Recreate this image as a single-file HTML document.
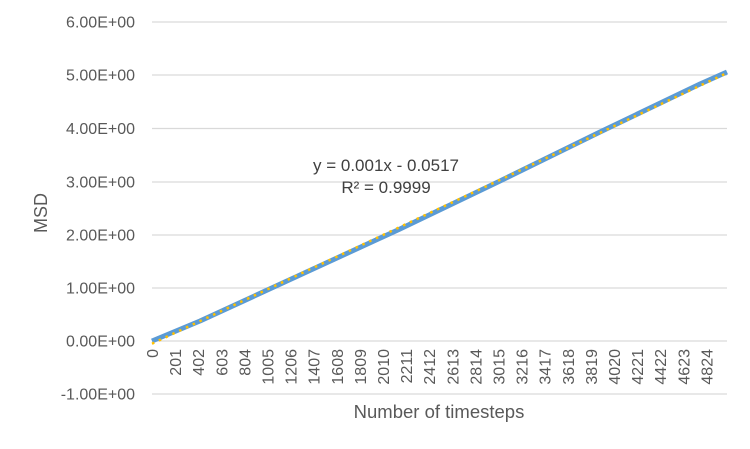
<!DOCTYPE html>
<html><head><meta charset="utf-8"><style>
html,body{margin:0;padding:0;background:#fff;}
svg{display:block;font-family:"Liberation Sans",sans-serif;}
</style></head><body>
<svg width="750" height="449" viewBox="0 0 750 449" xmlns="http://www.w3.org/2000/svg">
<g stroke="#d9d9d9" stroke-width="1.3">
<line x1="152" y1="22" x2="727" y2="22"/>
<line x1="152" y1="75" x2="727" y2="75"/>
<line x1="152" y1="128.5" x2="727" y2="128.5"/>
<line x1="152" y1="182" x2="727" y2="182"/>
<line x1="152" y1="235" x2="727" y2="235"/>
<line x1="152" y1="288" x2="727" y2="288"/>
<line x1="152" y1="341" x2="727" y2="341"/>
<line x1="152" y1="394" x2="727" y2="394"/>
</g>
<g fill="#595959" font-size="16" text-anchor="end">
<text x="135" y="27.5">6.00E+00</text>
<text x="135" y="80.5">5.00E+00</text>
<text x="135" y="134">4.00E+00</text>
<text x="135" y="187.5">3.00E+00</text>
<text x="135" y="240.5">2.00E+00</text>
<text x="135" y="293.5">1.00E+00</text>
<text x="135" y="346.5">0.00E+00</text>
<text x="135" y="399.5">-1.00E+00</text>
</g>
<g fill="#595959" font-size="16" text-anchor="end">
<text transform="translate(158,349) rotate(-90)">0</text>
<text transform="translate(181.1,349) rotate(-90)">201</text>
<text transform="translate(204.2,349) rotate(-90)">402</text>
<text transform="translate(227.3,349) rotate(-90)">603</text>
<text transform="translate(250.4,349) rotate(-90)">804</text>
<text transform="translate(273.5,349) rotate(-90)">1005</text>
<text transform="translate(296.6,349) rotate(-90)">1206</text>
<text transform="translate(319.7,349) rotate(-90)">1407</text>
<text transform="translate(342.8,349) rotate(-90)">1608</text>
<text transform="translate(365.9,349) rotate(-90)">1809</text>
<text transform="translate(389,349) rotate(-90)">2010</text>
<text transform="translate(412.1,349) rotate(-90)">2211</text>
<text transform="translate(435.2,349) rotate(-90)">2412</text>
<text transform="translate(458.3,349) rotate(-90)">2613</text>
<text transform="translate(481.4,349) rotate(-90)">2814</text>
<text transform="translate(504.5,349) rotate(-90)">3015</text>
<text transform="translate(527.6,349) rotate(-90)">3216</text>
<text transform="translate(550.7,349) rotate(-90)">3417</text>
<text transform="translate(573.8,349) rotate(-90)">3618</text>
<text transform="translate(596.9,349) rotate(-90)">3819</text>
<text transform="translate(620,349) rotate(-90)">4020</text>
<text transform="translate(643.1,349) rotate(-90)">4221</text>
<text transform="translate(666.2,349) rotate(-90)">4422</text>
<text transform="translate(689.3,349) rotate(-90)">4623</text>
<text transform="translate(712.4,349) rotate(-90)">4824</text>
</g>
<text x="47" y="213" fill="#595959" font-size="18" text-anchor="middle" transform="rotate(-90 47 213)">MSD</text>
<text x="439" y="418" fill="#595959" font-size="18.5" text-anchor="middle">Number of timesteps</text>
<polyline fill="none" stroke="#5b9bd5" stroke-width="5" stroke-linejoin="round"
 points="152,341 200,321 300,275 400,229 500,181 600,132 700,84 727,72"/>
<line x1="152" y1="343.7" x2="727" y2="73" stroke="#ffc000" stroke-width="2.5" stroke-dasharray="2.5 5"/>
<text x="386" y="171" fill="#404040" font-size="17" text-anchor="middle">y = 0.001x - 0.0517</text>
<text x="386" y="193" fill="#404040" font-size="17" text-anchor="middle">R² = 0.9999</text>
</svg>
</body></html>
